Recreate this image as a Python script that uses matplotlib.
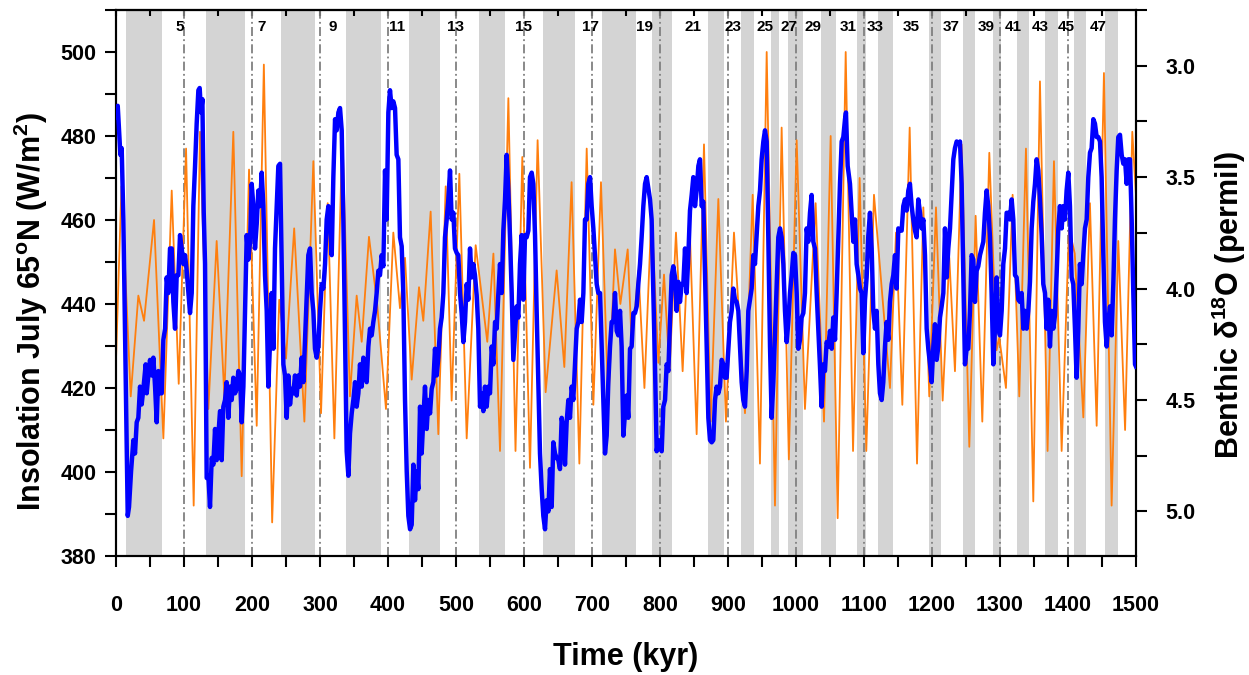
import matplotlib
matplotlib.use('Agg')
import matplotlib.pyplot as plt
from matplotlib.ticker import MultipleLocator

plt.rcParams['font.family'] = ['Liberation Sans', 'DejaVu Sans']
plt.rcParams['font.weight'] = 'bold'
plt.rcParams['mathtext.fontset'] = 'custom'
plt.rcParams['mathtext.rm'] = 'Liberation Sans:bold'
plt.rcParams['mathtext.it'] = 'Liberation Sans:bold'
plt.rcParams['mathtext.bf'] = 'Liberation Sans:bold'

# glacial (even MIS) intervals, kyr
band_start = [14, 132, 243, 338, 431, 534, 628, 715, 788, 871, 919, 963, 988,
              1037, 1089, 1120, 1195, 1246, 1290, 1325, 1366, 1409, 1455]
band_end = [67, 189, 293, 390, 476, 572, 675, 764, 818, 894, 938, 975, 1011,
            1059, 1103, 1142, 1213, 1264, 1302, 1343, 1386, 1427, 1474]

# odd MIS numbers written along the top
mis_num = [5, 7, 9, 11, 13, 15, 17, 19, 21, 23, 25, 27, 29, 31, 33, 35, 37, 39, 41, 43, 45, 47]
mis_pos = [94, 214, 319, 413, 499, 599, 697, 777, 849, 908, 954, 990, 1025, 1077,
           1117, 1169, 1228, 1280, 1320, 1359, 1398, 1444]

# July insolation at 65N (W/m2)
insol_t = [0, 8, 21.6, 32.8, 41.2, 55.9, 69.6, 81.9, 92.2, 103, 114.2, 123.5, 135.8, 148,
           159.3, 172.5, 184.8, 195.6, 206.9, 217.4, 229.6, 240, 250, 262, 277, 290.2,
           301.5, 311.3, 321.1, 332.8, 344, 353.9, 361.3, 372, 384, 397, 407.8, 417.6,
           425, 434.8, 445.6, 451.9, 462.7, 474, 484.8, 493.6, 504.9, 515.7, 528.9, 546,
           555, 564.7, 577, 587.5, 597.5, 608.8, 620, 631.8, 648, 659.3, 670, 681.4,
           692.2, 702, 713.2, 724, 733.8, 741.7, 752.5, 758.5, 768.3, 777.1, 787.5,
           797.6, 805.9, 814, 823.5, 833.3, 843.1, 853.9, 864.7, 874.5, 885.8, 897,
           908.8, 925, 936.3, 947, 956.9, 969.1, 978.9, 989.5, 1001, 1013.2, 1028.9,
           1041.2, 1051, 1061.3, 1073.1, 1083.9, 1093.6, 1103.4, 1114.7, 1126, 1138.2,
           1147.1, 1156.4, 1167.2, 1178, 1187.3, 1196, 1205.9, 1215.7, 1225.5, 1233.8,
           1243.6, 1254.9, 1264.2, 1274, 1284.3, 1295, 1299, 1308.8, 1318.6, 1328.4,
           1338.2, 1349, 1358.8, 1370, 1379.4, 1390.7, 1401.5, 1410, 1422.6, 1432.3,
           1442.2, 1452.9, 1464.2, 1474, 1484, 1494.6, 1500]
insol_v = [427, 468, 418, 442, 436, 460, 408, 467, 421, 477, 392, 481, 415, 455,
           418, 481, 399, 472, 411, 497, 388, 441, 427, 458, 412, 474,
           414, 464, 408, 481, 418, 442, 431, 456, 440, 415, 457, 439,
           451, 422, 444, 436, 462, 409, 468, 417, 471, 408, 454, 431,
           452, 405, 489, 405, 475, 401, 479, 419, 448, 425, 469, 402,
           477, 416, 469, 416, 453, 440, 453, 430, 448, 420, 462,
           426, 447, 424, 457, 424, 461, 409, 478, 412, 465, 412,
           457, 414, 466, 402, 500, 392, 482, 403, 479, 415, 464,
           412, 480, 389, 500, 405, 470, 405, 466, 444, 420,
           457, 416, 482, 402, 463, 418, 463, 417, 451, 424,
           478, 406, 461, 412, 476, 429, 432, 420, 466, 418,
           477, 393, 493, 405, 474, 405, 458, 452, 413, 464,
           411, 495, 392, 455, 410, 481, 466]

# benthic d18O stack (permil)
d18o_t = [0, 2.5, 4.4, 6.4, 8.3, 10.8, 13.2, 15.7, 17.2, 19.1, 22.1, 25.5, 27.9, 30.4,
          32.8, 35.3, 37.7, 40.2, 43.6, 45.1, 47.5, 50, 52.5, 54.9, 57.4, 59.8, 62.3,
          64.7, 67.2, 69.6, 72.1, 74.5, 77, 79.4, 81.9, 84.3, 86.8, 89.2, 91.7, 94.1,
          96.6, 99, 101.5, 103.9, 106.4, 108.8, 111.3, 113.7, 116.2, 118.6, 121.1, 123,
          125, 127, 129, 130.9, 133.3, 135.8, 138.2, 140.7, 143.1, 145.6, 148, 150.5,
          152.9, 155.4, 157.8, 160.3, 162.7, 165.2, 167.6, 170.1, 172.5, 175, 177.4,
          179.9, 182.4, 184.8, 187.3, 189.7, 192.2, 194.6, 197.1, 199.5, 202, 204.4,
          206.9, 209.3, 211.8, 214.2, 216.7, 219.1, 221.6, 224, 226.5, 228.9, 231.4,
          233.8, 236.3, 238.7, 241.2, 243.6, 246.1, 248.5, 251, 253.4, 255.9, 258.3,
          260.8, 263.2, 265.7, 268.1, 270.6, 273, 275.5, 277.9, 280.4, 282.8, 285.3,
          287.7, 290.2, 292.6, 295.1, 297.5, 300, 302.5, 304.9, 307.4, 309.8, 312.3,
          314.7, 317.2, 319.6, 322.1, 324.5, 327, 329.4, 331.9, 334.3, 336.8, 339.2,
          341.7, 344.1, 346.6, 349, 351.5, 353.9, 356.4, 358.8, 361.3, 363.7, 366.2,
          368.6, 371.1, 373.5, 376, 378.4, 380.9, 383.3, 385.8, 388.2, 390.7, 393.1,
          395.6, 398, 400.5, 402.9, 405.4, 407.8, 410.3, 412.7, 415.2, 417.6, 420.1,
          422.5, 425, 427.5, 429.9, 432.4, 434.8, 437.3, 439.7, 442.2, 444.6, 447.1,
          449.5, 452, 454.4, 456.9, 459.3, 461.8, 464.2, 466.7, 469.1, 471.6, 474,
          476.5, 478.9, 481.4, 483.8, 486.3, 488.7, 491.2, 493.6, 496.1, 498.5, 501,
          503.4, 505.9, 508.3, 510.8, 513.2, 515.7, 518.1, 520.6, 523, 525.5, 527.9,
          530.4, 532.8, 535.3, 537.7, 540.2, 542.6, 545.1, 547.5, 550, 552.5, 554.9,
          557.4, 559.8, 562.3, 564.7, 567.2, 569.6, 572.1, 574.5, 577, 579.4, 581.9,
          584.3, 586.8, 589.2, 591.7, 594.1, 596.6, 599, 601.5, 603.9, 606.4, 608.8,
          611.3, 613.7, 616.2, 618.6, 621.1, 623.5, 626, 628.4, 630.9, 633.3, 635.8,
          638.2, 640.7, 643.1, 645.6, 648, 650.5, 652.9, 655.4, 657.8, 660.3, 662.7,
          665.2, 667.6, 670.1, 672.5, 675, 677.5, 679.9, 682.4, 684.8, 687.3, 689.7,
          692.2, 694.6, 697.1, 699.5, 702, 704.4, 706.9, 709.3, 711.8, 714.2, 716.7,
          719.1, 721.6, 724, 726.5, 728.9, 731.4, 733.8, 736.3, 738.7, 741.2, 743.6,
          746.1, 748.5, 751, 753.4, 755.9, 758.3, 760.8, 763.2, 765.7, 768.1, 770.6,
          773, 775.5, 778, 780.4, 782.8, 785.3, 787.7, 790.2, 792.6, 795.1, 797.5,
          800, 802.5, 804.9, 807.4, 809.8, 812.3, 814.7, 817.2, 819.6, 822.1, 824.5,
          827, 829.4, 831.9, 834.3, 836.8, 839.2, 841.7, 844.1, 846.6, 849, 851.5,
          853.9, 856.4, 858.8, 861.3, 863.7, 866.2, 868.6, 871.1, 873.5, 876, 878.4,
          880.9, 883.3, 885.8, 888.2, 890.7, 893.1, 895.6, 898, 900.5, 902.9, 905.4,
          907.8, 910.3, 912.7, 915.2, 917.6, 920.1, 922.5, 925, 927.5, 929.9, 932.4,
          934.8, 937.3, 939.7, 942.2, 944.6, 947.1, 949.5, 952, 954.4, 956.9, 959.3,
          961.8, 964.2, 966.7, 969.1, 971.6, 974, 976.5, 978.9, 981.4, 983.8, 986.3,
          988.7, 991.2, 993.6, 996.1, 998.5, 1001, 1003.4, 1005.9, 1008.3, 1010.8,
          1013.2, 1015.7, 1018.1, 1020.6, 1023, 1025.5, 1027.9, 1030.4, 1032.8, 1035.3,
          1037.7, 1040.2, 1042.6, 1045.1, 1047.5, 1050, 1052.5, 1054.9, 1057.4, 1059.8,
          1062.3, 1064.7, 1067.2, 1069.6, 1072.1, 1073.5, 1076, 1079.4, 1081.9, 1084.3,
          1086.8, 1089.2, 1091.7, 1094.1, 1096.6, 1099, 1101.5, 1103.9, 1106.4, 1108.8,
          1111.3, 1113.7, 1116.2, 1118.6, 1121.1, 1123.5, 1126, 1128.4, 1130.9, 1133.3,
          1135.8, 1138.2, 1140.7, 1143.1, 1145.6, 1148, 1150.5, 1152.9, 1155.4, 1157.8,
          1160.3, 1162.7, 1165.2, 1167.6, 1170.1, 1172.5, 1175, 1177.4, 1179.9, 1182.4,
          1184.8, 1187.3, 1189.7, 1192.2, 1194.6, 1197.1, 1199.5, 1202, 1204.4, 1206.9,
          1209.3, 1211.8, 1214.2, 1216.7, 1219.1, 1221.6, 1224, 1226.5, 1228.9, 1231.4,
          1233.8, 1236.3, 1238.7, 1241.2, 1243.6, 1246.1, 1248.5, 1251, 1253.4, 1255.9,
          1258.3, 1260.8, 1263.2, 1265.7, 1268.1, 1270.6, 1273, 1275.5, 1277.9, 1280.4,
          1282.8, 1285.3, 1287.7, 1290.2, 1292.6, 1295.1, 1297.5, 1300, 1302.5, 1304.9,
          1307.4, 1309.8, 1312.3, 1314.7, 1317.2, 1319.6, 1322.1, 1324.5, 1327, 1329.4,
          1331.9, 1334.3, 1336.8, 1339.2, 1341.7, 1344.1, 1346.6, 1349, 1351.5, 1353.9,
          1356.4, 1358.8, 1361.3, 1363.7, 1366.2, 1368.6, 1371.1, 1373.5, 1376, 1378.4,
          1380.9, 1383.3, 1385.8, 1388.2, 1390.7, 1393.1, 1395.6, 1398, 1400.5, 1402.9,
          1405.4, 1407.8, 1410.3, 1412.7, 1415.2, 1417.6, 1420.1, 1422.5, 1425, 1427.5,
          1429.9, 1432.4, 1434.8, 1437.3, 1439.7, 1442.2, 1444.6, 1447.1, 1449.5, 1452,
          1454.4, 1456.9, 1459.3, 1461.8, 1464.2, 1466.7, 1469.1, 1471.6, 1474, 1476.5,
          1479, 1481.4, 1483.9, 1486.3, 1488.8, 1491.2, 1493.7, 1496.1, 1498.6, 1500]
d18o_v = [3.23, 3.18, 3.29, 3.40, 3.37, 3.69, 4.18, 4.66, 5.02, 4.98, 4.82, 4.68, 4.74, 4.60,
          4.58, 4.44, 4.52, 4.45, 4.34, 4.47, 4.39, 4.32, 4.39, 4.31, 4.44, 4.60, 4.37,
          4.47, 4.47, 4.23, 4.18, 3.95, 4.02, 3.82, 3.82, 4.06, 4.18, 3.94, 3.94, 3.76,
          3.82, 3.89, 3.85, 3.92, 4.02, 4.11, 4.02, 3.63, 3.45, 3.26, 3.11, 3.10,
          3.21, 3.15, 3.66, 3.89, 4.85, 4.84, 4.98, 4.76, 4.79, 4.63, 4.77, 4.66,
          4.55, 4.77, 4.53, 4.50, 4.42, 4.58, 4.44, 4.50, 4.40, 4.47, 4.45,
          4.37, 4.39, 4.60, 4.44, 4.10, 3.76, 3.87, 3.79, 3.53, 3.63, 3.82,
          3.71, 3.56, 3.63, 3.48, 3.63, 3.94, 4.10, 4.44, 4.24, 4.02, 4.27,
          3.82, 3.63, 3.45, 3.44, 3.89, 4.34, 4.39, 4.58, 4.39, 4.52, 4.45,
          4.47, 4.39, 4.48, 4.39, 4.44, 4.31, 4.42, 4.23, 4.02, 3.85, 3.82,
          4.02, 4.10, 4.27, 4.31, 4.26, 4.10, 3.98, 4.00, 3.89, 3.69, 3.63,
          3.69, 3.85, 3.50, 3.24, 3.29, 3.21, 3.19, 3.29, 3.69, 4.23, 4.73,
          4.84, 4.65, 4.56, 4.50, 4.42, 4.53, 4.47, 4.34, 4.44, 4.31, 4.34,
          4.42, 4.26, 4.18, 4.21, 4.15, 4.10, 4.02, 3.92, 3.94, 3.85, 3.90,
          3.47, 3.69, 3.21, 3.11, 3.19, 3.16, 3.19, 3.40, 3.42, 3.77, 3.81,
          4.02, 4.50, 4.82, 5.02, 5.08, 5.06, 4.79, 4.95, 4.82, 4.90, 4.53,
          4.74, 4.58, 4.44, 4.63, 4.50, 4.56, 4.45, 4.42, 4.27, 4.39, 4.31,
          4.18, 4.13, 4.02, 3.77, 3.69, 3.60, 3.47, 3.69, 3.66, 3.82, 3.84,
          3.85, 4.02, 4.11, 4.24, 4.15, 3.98, 4.05, 3.82, 3.95, 3.89, 3.94,
          4.03, 4.18, 4.53, 4.47, 4.55, 4.44, 4.53, 4.44, 4.47, 4.26, 4.34,
          4.15, 4.18, 4.02, 3.89, 4.02, 3.74, 3.60, 3.40, 3.56, 3.77, 4.02,
          4.32, 4.20, 4.08, 4.13, 3.89, 3.76, 4.05, 3.76, 3.77, 3.74, 3.50,
          3.48, 3.53, 3.76, 4.10, 4.42, 4.74, 4.90, 5.02, 5.08, 4.95, 5.00,
          4.81, 4.98, 4.69, 4.74, 4.76, 4.77, 4.81, 4.58, 4.63, 4.79, 4.60,
          4.50, 4.58, 4.44, 4.50, 4.34, 4.18, 4.15, 4.05, 4.15, 4.02, 3.69,
          3.69, 3.53, 3.50, 3.63, 3.73, 3.85, 3.98, 4.02, 4.02, 4.26, 4.50,
          4.74, 4.66, 4.42, 4.26, 4.15, 4.15, 4.02, 4.19, 4.21, 4.10, 4.26,
          4.66, 4.56, 4.48, 4.58, 4.27, 4.26, 4.11, 4.11, 4.08, 3.98, 3.89,
          3.77, 3.63, 3.53, 3.50, 3.55, 3.60, 3.69, 4.02, 4.34, 4.73, 4.68,
          4.69, 4.73, 4.53, 4.50, 4.34, 4.37, 4.15, 3.94, 3.90, 3.95, 4.10,
          3.97, 4.06, 3.98, 3.98, 3.82, 4.02, 3.85, 3.65, 3.58, 3.50, 3.63,
          3.56, 3.45, 3.42, 3.63, 3.61, 3.94, 4.26, 4.58, 4.68, 4.69, 4.68,
          4.50, 4.44, 4.47, 4.44, 4.32, 4.34, 4.40, 4.40, 4.27, 4.15, 4.10,
          4.00, 4.05, 4.06, 4.10, 4.26, 4.42, 4.50, 4.53, 4.37, 4.10, 4.05,
          4.00, 3.85, 3.89, 3.76, 3.63, 3.56, 3.42, 3.34, 3.29, 3.34, 3.77,
          4.26, 4.58, 4.42, 4.21, 3.98, 3.77, 3.73, 3.77, 3.89, 4.10, 4.24,
          4.15, 4.02, 3.94, 3.84, 3.85, 4.02, 4.27, 4.23, 4.13, 4.11,
          4.02, 3.73, 3.79, 3.66, 3.58, 3.79, 3.82, 4.02, 4.18, 4.35,
          4.53, 4.34, 4.37, 4.24, 4.26, 4.19, 4.27, 4.13, 4.23, 4.02,
          3.77, 3.53, 3.34, 3.32, 3.24, 3.21, 3.45, 3.53, 3.66, 3.79,
          3.69, 3.89, 3.94, 4.00, 4.02, 4.29, 4.05, 3.95, 3.76, 3.66,
          3.82, 4.10, 4.18, 4.10, 4.34, 4.47, 4.50, 4.42, 4.26, 4.15,
          4.23, 4.06, 3.98, 3.94, 3.85, 4.00, 3.73, 3.74, 3.74, 3.63,
          3.60, 3.65, 3.56, 3.53, 3.63, 3.69, 3.74, 3.77, 3.60, 3.66,
          3.73, 3.69, 3.85, 4.18, 4.27, 4.34, 4.42, 4.26, 4.16, 4.32,
          4.26, 4.13, 4.08, 4.02, 3.73, 3.95, 3.82, 3.73, 3.58, 3.42,
          3.37, 3.34, 3.35, 3.34, 3.53, 3.94, 4.34, 4.27, 4.27, 4.10,
          3.85, 3.87, 4.06, 3.92, 3.90, 3.85, 3.82, 3.79, 3.66, 3.56,
          3.63, 3.77, 4.02, 4.34, 4.18, 3.95, 4.18, 4.21, 4.10, 3.89,
          3.82, 3.66, 3.66, 3.69, 3.60, 3.69, 3.94, 3.95, 4.05, 4.06,
          4.02, 4.18, 4.10, 4.18, 4.10, 3.97, 3.73, 3.61, 3.53, 3.42,
          3.47, 3.60, 3.76, 3.98, 4.02, 4.18, 4.05, 4.26, 4.10, 4.18,
          4.12, 3.94, 3.73, 3.63, 3.73, 3.63, 3.69, 3.56, 3.48, 3.63,
          3.95, 3.98, 4.18, 4.40, 4.18, 3.89, 3.98, 3.85, 3.73, 3.69,
          3.50, 3.39, 3.37, 3.24, 3.26, 3.32, 3.32, 3.34, 3.50, 3.85,
          4.15, 4.26, 4.15, 4.08, 4.21, 3.98, 3.69, 3.47, 3.32, 3.31,
          3.40, 3.44, 3.42, 3.53, 3.42, 3.42, 3.69, 4.02, 4.34, 4.35]

century_lines = [100, 200, 300, 400, 500, 600, 700, 800, 900, 1000, 1100, 1200, 1300, 1400]

fig = plt.figure(figsize=(12.49, 6.75), dpi=100)
ax = fig.add_axes([0.0929, 0.1763, 0.8166, 0.8089])

for s, e in zip(band_start, band_end):
    ax.axvspan(s, e, color='#d4d4d4', lw=0, zorder=0)
for x in century_lines:
    ax.axvline(x, color='#808080', lw=1.3, dashes=(5, 1.8, 1, 1.8), zorder=1)
for n, x in zip(mis_num, mis_pos):
    ax.text(x, 0.969, str(n), transform=ax.get_xaxis_transform(), ha='center', va='center',
            fontsize=11, fontweight='bold', zorder=2)

ax.plot(insol_t, insol_v, color='#ff7f0e', lw=1.3, solid_joinstyle='round', zorder=3)

ax.set_xlim(0, 1500)
ax.set_ylim(380, 510)
ax.xaxis.set_major_locator(MultipleLocator(100))
ax.xaxis.set_minor_locator(MultipleLocator(50))
ax.yaxis.set_major_locator(MultipleLocator(20))
ax.yaxis.set_minor_locator(MultipleLocator(10))
ax.tick_params(axis='both', which='both', direction='out', length=8, width=1.5, labelsize=15.5)
ax.tick_params(axis='x', pad=20)
ax.tick_params(axis='y', pad=6)
ax.set_xlabel('Time (kyr)', fontsize=22, fontweight='bold', va='center')
ax.xaxis.set_label_coords(0.5, -0.185)
ax.set_ylabel('Insolation July 65$^{o}$N (W/m$^{2}$)', fontsize=22, fontweight='bold', va='center')
ax.yaxis.set_label_coords(-0.084, 0.447)

top = ax.secondary_xaxis('top')
top.xaxis.set_major_locator(MultipleLocator(50))
top.tick_params(direction='in', length=4, width=1.5, labeltop=False)

ax2 = ax.twinx()
ax2.plot(d18o_t, d18o_v, color='#0000ff', lw=3.2, zorder=4)
ax2.set_ylim(5.2, 2.75)
ax2.yaxis.set_major_locator(MultipleLocator(0.5))
ax2.yaxis.set_minor_locator(MultipleLocator(0.25))
ax2.yaxis.set_major_formatter(matplotlib.ticker.FormatStrFormatter('%.1f'))
ax2.tick_params(axis='y', which='both', direction='out', length=8, width=1.5, labelsize=15.5, pad=13)
ax2.set_ylabel('Benthic \u03b4$^{18}$O (permil)', fontsize=22, fontweight='bold', va='center')
ax2.yaxis.set_label_coords(1.091, 0.46)

for a in (ax, ax2, top):
    for sp in a.spines.values():
        sp.set_linewidth(1.5)

fig.savefig('out.png', dpi=100)
